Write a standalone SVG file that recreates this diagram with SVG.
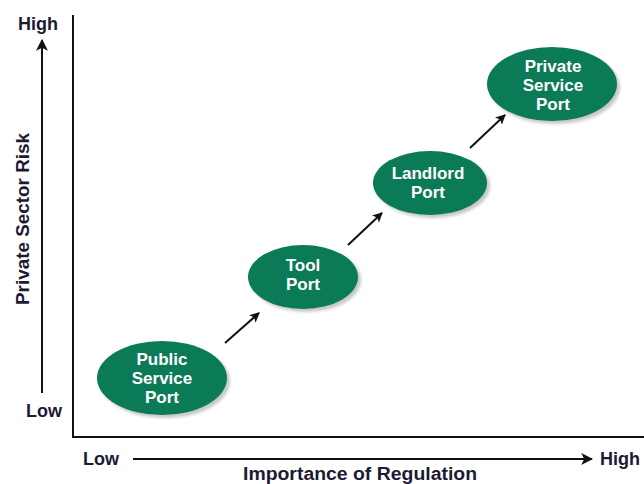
<svg xmlns="http://www.w3.org/2000/svg" width="644" height="484" viewBox="0 0 644 484">
<style>
.lbl{font-family:"Liberation Sans",Arial,sans-serif;font-weight:bold;font-size:18px;fill:#1b1b33}
.nt{font-family:"Liberation Sans",Arial,sans-serif;font-weight:bold;font-size:17px;fill:#ffffff;text-anchor:middle}
.node{fill:#0b7b57}
.shadow{fill:#9a9a9a;opacity:0.55;filter:url(#blur)}
.axis{stroke:#111;stroke-width:2;fill:none}
.conn{stroke:#111;stroke-width:2;fill:none;marker-end:url(#ah)}
</style>
<defs>
<filter id="blur" x="-20%" y="-20%" width="140%" height="140%"><feGaussianBlur stdDeviation="1.5"/></filter>
<marker id="ah" viewBox="0 0 10 10" refX="9" refY="5" markerWidth="5" markerHeight="5" orient="auto" markerUnits="strokeWidth">
<path d="M0,0 L10,5 L0,10 L2.5,5 Z" fill="#111"/>
</marker>
<marker id="ahx" viewBox="0 0 10 10" refX="9" refY="5" markerWidth="6" markerHeight="6" orient="auto" markerUnits="strokeWidth">
<path d="M0,0 L10,5 L0,10 L2.5,5 Z" fill="#111"/>
</marker>
</defs>
<rect width="644" height="484" fill="#ffffff"/>
<g id="axes">
<path class="axis" d="M73,15 V437 H644"/>
<line x1="42" y1="393" x2="42" y2="40" stroke="#111" stroke-width="2" marker-end="url(#ahx)"/>
<line x1="133" y1="459" x2="592" y2="459" stroke="#111" stroke-width="2" marker-end="url(#ahx)"/>
<text class="lbl" x="18" y="30">High</text>
<text class="lbl" x="26" y="417">Low</text>
<text class="lbl" x="83" y="465">Low</text>
<text class="lbl" x="600" y="465">High</text>
<text class="lbl" x="360" y="480" text-anchor="middle" textLength="234" lengthAdjust="spacingAndGlyphs">Importance of Regulation</text>
<text class="lbl" transform="translate(29,219) rotate(-90)" text-anchor="middle" textLength="172" lengthAdjust="spacingAndGlyphs">Private Sector Risk</text>
</g>
<g id="connectors">
<line class="conn" x1="225" y1="343" x2="259" y2="313"/>
<line class="conn" x1="348" y1="245" x2="382" y2="213"/>
<line class="conn" x1="470" y1="148" x2="505" y2="115"/>
</g>
<g id="public-service-port">
<ellipse class="shadow" cx="165" cy="381" rx="65" ry="37"/>
<ellipse class="node" cx="162" cy="378" rx="65" ry="37"/>
<text class="nt" x="162" y="365">Public</text>
<text class="nt" x="162" y="384">Service</text>
<text class="nt" x="162" y="403">Port</text>
</g>
<g id="tool-port">
<ellipse class="shadow" cx="306" cy="280" rx="55" ry="32"/>
<ellipse class="node" cx="303" cy="277" rx="55" ry="32"/>
<text class="nt" x="303" y="271">Tool</text>
<text class="nt" x="303" y="290">Port</text>
</g>
<g id="landlord-port">
<ellipse class="shadow" cx="433" cy="186" rx="57" ry="32"/>
<ellipse class="node" cx="430" cy="183" rx="57" ry="32"/>
<text class="nt" x="428" y="179">Landlord</text>
<text class="nt" x="428" y="198">Port</text>
</g>
<g id="private-service-port">
<ellipse class="shadow" cx="555" cy="87" rx="65" ry="37"/>
<ellipse class="node" cx="552" cy="84" rx="65" ry="37"/>
<text class="nt" x="553" y="72">Private</text>
<text class="nt" x="553" y="91">Service</text>
<text class="nt" x="553" y="110">Port</text>
</g>
</svg>
